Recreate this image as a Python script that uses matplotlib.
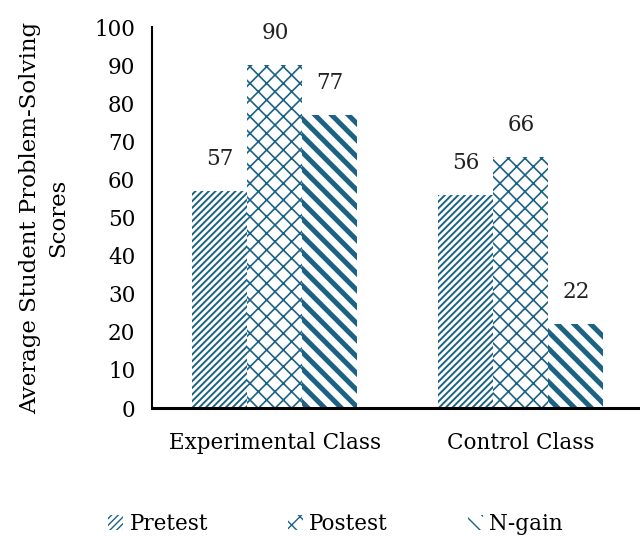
import numpy as np
import matplotlib
matplotlib.use('Agg')
import matplotlib.pyplot as plt

plt.rcParams['font.family'] = ['DejaVu Serif', 'Liberation Serif']

# Mean problem-solving scores by class
classes = ['Experimental Class', 'Control Class']
series = ['Pretest', 'Postest', 'N-gain']
pretest = [57, 56]
postest = [90, 66]
ngain = [77, 22]

color = '#1c6285'
hatches = ['/////', 'xx', '\\\\']
hatch_lw = [1.4, 1.2, 3.6]
fs = 15.5

fig = plt.figure(figsize=(6.4, 5.36), dpi=100)
ax = fig.add_axes([0.2375, 0.2388, 0.7625, 0.7108])

x = np.arange(len(classes))
w = 0.2236
for i, (name, vals) in enumerate(zip(series, [pretest, postest, ngain])):
    with plt.rc_context({'hatch.linewidth': hatch_lw[i]}):
        bars = ax.bar(x + (i - 1) * w, vals, w, facecolor='white',
                      edgecolor=color, linewidth=0, hatch=hatches[i], label=name)
    for b in bars:
        if hasattr(b, 'set_hatch_linewidth'):
            b.set_hatch_linewidth(hatch_lw[i])
    for b, v in zip(bars, vals):
        ax.text(b.get_x() + b.get_width() / 2, v + 5.5, str(v),
                ha='center', va='bottom', fontsize=fs, color='#222222')

ax.set_xlim(-0.5, 1.484)
ax.set_ylim(0, 100)
ax.set_yticks(range(0, 101, 10))
ax.set_xticks(x)
ax.set_xticklabels(classes, fontsize=fs)
ax.tick_params(axis='y', length=0, labelsize=fs, pad=12)
ax.tick_params(axis='x', length=0, pad=17)
for s in ['top', 'right']:
    ax.spines[s].set_visible(False)
ax.spines['left'].set_linewidth(1.5)
ax.spines['bottom'].set_linewidth(2.2)
ax.set_ylabel('Average Student Problem-Solving\nScores', fontsize=16.5,
              linespacing=1.4, labelpad=18)

leg = ax.legend(loc='lower left', bbox_to_anchor=(-0.13, -0.385), ncol=3,
                frameon=False, fontsize=fs, handlelength=0.7, handleheight=0.7,
                handletextpad=0.3, columnspacing=3.7)

fig.savefig('out.png', dpi=100)
